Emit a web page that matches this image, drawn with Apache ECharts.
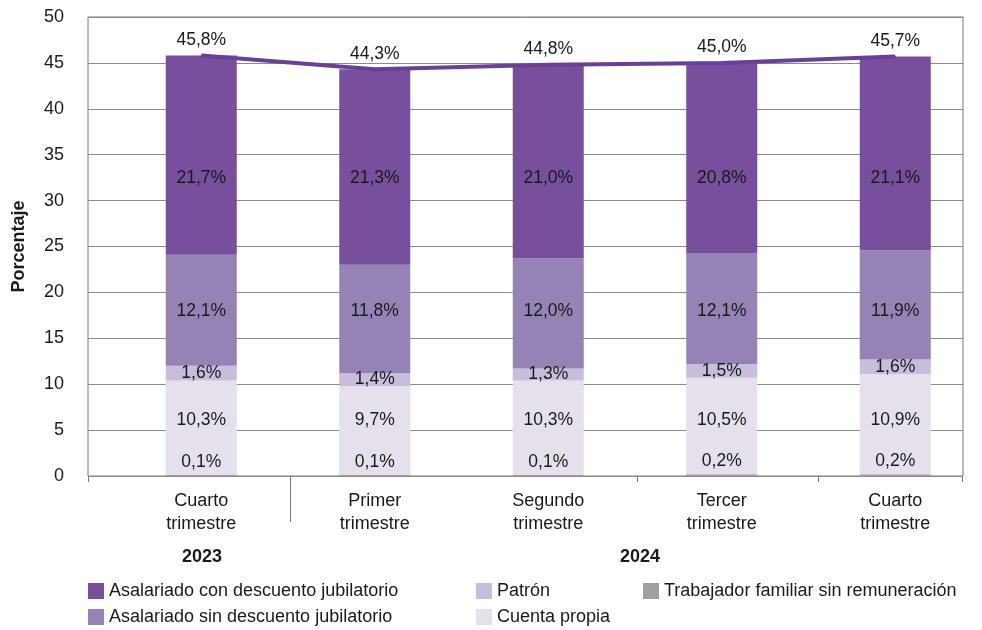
<!DOCTYPE html>
<html>
<head>
<meta charset="utf-8">
<script src="https://cdn.jsdelivr.net/npm/echarts@6/dist/echarts.min.js"></script>
<style>
  html, body { margin: 0; padding: 0; background: #fff; }
  #chart { width: 982px; height: 630px; }
</style>
</head>
<body>
<div id="chart"></div>
<script>
// trimestres
const categories = ['Cuarto\ntrimestre', 'Primer\ntrimestre', 'Segundo\ntrimestre', 'Tercer\ntrimestre', 'Cuarto\ntrimestre']

// composicion en % (de abajo hacia arriba)
const familiar = [0.1, 0.1, 0.1, 0.2, 0.2]
const cuentaPropia = [10.3, 9.7, 10.3, 10.5, 10.9]
const patron = [1.6, 1.4, 1.3, 1.5, 1.6]
const asalSin = [12.1, 11.8, 12.0, 12.1, 11.9]
const asalCon = [21.7, 21.3, 21.0, 20.8, 21.1]
const total = [45.8, 44.3, 44.8, 45.0, 45.7]

const yTicks = [0, 5, 10, 15, 20, 25, 30, 35, 40, 45, 50]

const font = 'Liberation Sans, Arial, Helvetica, sans-serif'
const txt = '#1a1a1a'
const fmt = v => v.toFixed(1).replace('.', ',') + '%'

// px por unidad del eje y (alto del grid / rango)
const pxPerUnit = 459 / 50

// base acumulada de cada serie
const stackOrder = [familiar, cuentaPropia, patron, asalSin, asalCon]
function baseOf(idx, i) {
  let s = 0
  for (let k = 0; k < idx; k++) s += stackOrder[k][i]
  return s
}

// el original deja las etiquetas a la misma altura en todas las barras
function itemsWithAnchor(data, idx, anchor) {
  return data.map((v, i) => {
    if (anchor == null) return v
    const center = baseOf(idx, i) + v / 2
    return { value: v, label: { offset: [0, (center - anchor) * pxPerUnit] } }
  })
}

const chart = echarts.init(document.getElementById('chart'))

function barSeries(name, idx, color, pos, anchor) {
  return {
    name: name,
    type: 'bar',
    stack: 'total',
    xAxisIndex: 0,
    yAxisIndex: 1,
    barWidth: 71,
    itemStyle: { color: color },
    label: {
      show: true,
      position: pos || 'inside',
      distance: 4,
      color: txt,
      fontFamily: font,
      fontSize: 17.5,
      formatter: p => fmt(p.value)
    },
    emphasis: { disabled: true },
    data: itemsWithAnchor(stackOrder[idx], idx, anchor)
  }
}

const legendText = { color: txt, fontFamily: font, fontSize: 18 }
const legendBase = {
  orient: 'vertical',
  top: 582,
  padding: 0,
  itemWidth: 16,
  itemHeight: 16,
  itemGap: 8,
  icon: 'rect',
  textStyle: legendText
}

chart.setOption({
  animation: false,
  grid: [
    // grid de barras (desplazado como en el original)
    { left: 114.5, width: 875, top: 17, bottom: 154 },
    // marco y lineas de guia
    { left: 88, width: 875, top: 17, bottom: 154, show: true, borderColor: '#7a7a7a', borderWidth: 1 }
  ],
  xAxis: [{
    type: 'category',
    gridIndex: 0,
    data: categories,
    axisLine: { show: false },
    axisTick: { show: false },
    axisLabel: {
      color: txt,
      fontFamily: font,
      fontSize: 18,
      lineHeight: 23,
      margin: 14
    }
  }, {
    type: 'category',
    gridIndex: 1,
    data: categories,
    show: false
  }],
  yAxis: [{
    type: 'value',
    gridIndex: 1,
    min: 0,
    max: 50,
    interval: 5,
    name: 'Porcentaje',
    nameLocation: 'middle',
    nameGap: 60,
    nameTextStyle: { color: txt, fontFamily: font, fontSize: 18, fontWeight: 'bold' },
    axisLine: { show: false },
    axisTick: { show: false },
    axisLabel: {
      color: txt,
      fontFamily: font,
      fontSize: 18,
      margin: 24,
      formatter: v => yTicks.includes(v) ? String(v) : ''
    },
    splitLine: { lineStyle: { color: '#8c8c8c', width: 1 } }
  }, {
    type: 'value',
    gridIndex: 0,
    min: 0,
    max: 50,
    interval: 5,
    show: false,
    splitLine: { show: false }
  }],
  legend: [
    Object.assign({}, legendBase, { left: 88, data: ['Asalariado con descuento jubilatorio', 'Asalariado sin descuento jubilatorio'] }),
    Object.assign({}, legendBase, { left: 476, data: ['Patrón', 'Cuenta propia'] }),
    Object.assign({}, legendBase, { left: 643, data: ['Trabajador familiar sin remuneración'] })
  ],
  graphic: [
    // marcas del eje de categorias
    { type: 'line', shape: { x1: 88.5, y1: 476, x2: 88.5, y2: 482 }, style: { stroke: '#7a7a7a' } },
    { type: 'line', shape: { x1: 290.5, y1: 476, x2: 290.5, y2: 522 }, style: { stroke: '#7a7a7a' } },
    { type: 'line', shape: { x1: 637.5, y1: 476, x2: 637.5, y2: 482 }, style: { stroke: '#7a7a7a' } },
    { type: 'line', shape: { x1: 818.5, y1: 476, x2: 818.5, y2: 482 }, style: { stroke: '#7a7a7a' } },
    { type: 'line', shape: { x1: 962.5, y1: 476, x2: 962.5, y2: 482 }, style: { stroke: '#7a7a7a' } },
    // años
    { type: 'text', x: 202, y: 557, style: { text: '2023', fill: txt, font: 'bold 18px ' + font, textAlign: 'center', textVerticalAlign: 'middle' } },
    { type: 'text', x: 640, y: 557, style: { text: '2024', fill: txt, font: 'bold 18px ' + font, textAlign: 'center', textVerticalAlign: 'middle' } }
  ],
  series: [
    barSeries('Trabajador familiar sin remuneración', 0, '#a0a0a0', 'top'),
    barSeries('Cuenta propia', 1, '#e6e0ed', 'inside', 6.1),
    barSeries('Patrón', 2, '#c9bddc'),
    barSeries('Asalariado sin descuento jubilatorio', 3, '#9583b6', 'inside', 18.0),
    barSeries('Asalariado con descuento jubilatorio', 4, '#774f9c', 'inside', 32.4),
    {
      name: 'Total',
      type: 'line',
      xAxisIndex: 0,
      yAxisIndex: 1,
      data: total,
      symbol: 'circle',
      symbolSize: 1,
      showSymbol: true,
      z: 5,
      itemStyle: { color: '#6a3f97' },
      lineStyle: { color: '#6a3f97', width: 4 },
      label: {
        show: true,
        position: 'top',
        distance: 6,
        color: txt,
        fontFamily: font,
        fontSize: 17.5,
        formatter: p => fmt(p.value)
      },
      emphasis: { disabled: true }
    }
  ]
})
</script>
</body>
</html>
